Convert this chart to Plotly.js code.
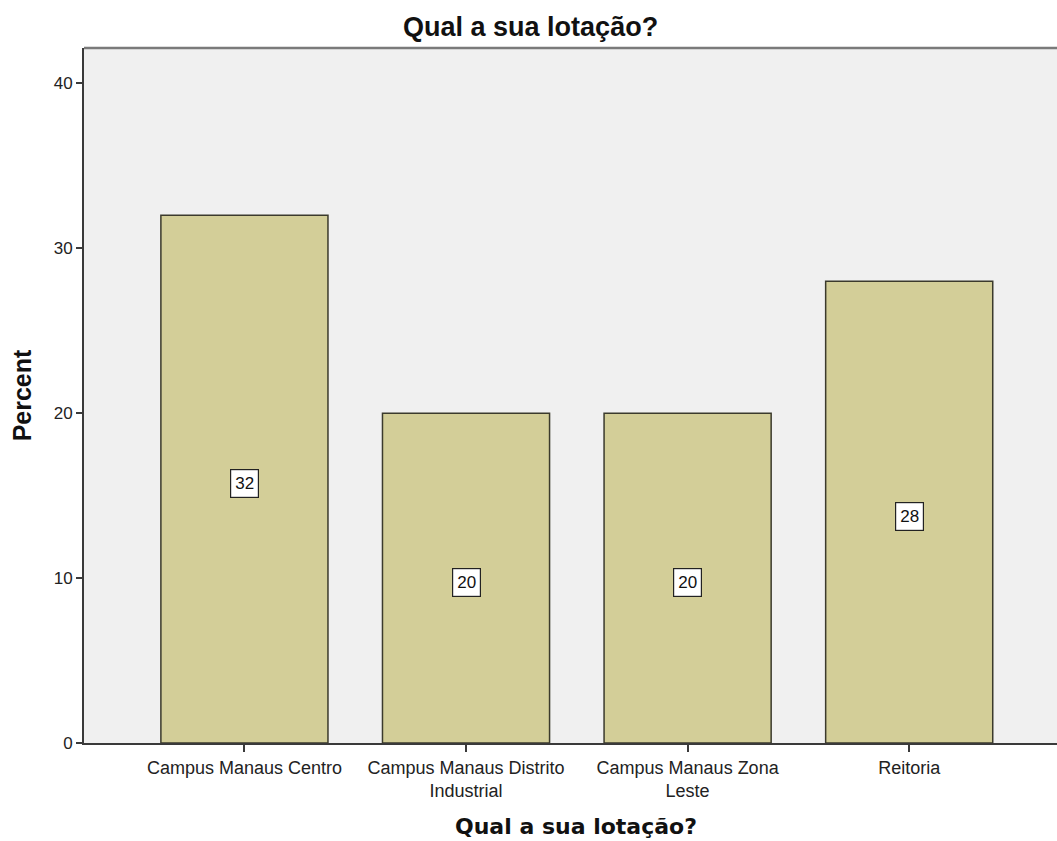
<!DOCTYPE html>
<html>
<head>
<meta charset="utf-8">
<script src="https://cdn.plot.ly/plotly-3.0.1.min.js"></script>
<style>html,body{margin:0;padding:0;background:#fff;}#chart{width:1057px;height:841px;}</style>
</head>
<body>
<div id="chart"></div>
<script>
const categories = ["Campus Manaus Centro", "Campus Manaus Distrito<br>Industrial", "Campus Manaus Zona<br>Leste", "Reitoria"];
const percents = [32, 20, 20, 28];
const labels = ["32", "20", "20", "28"];
const chartTitle = "Qual a sua lotação?";
const xTitle = "Qual a sua lotação?";
const yTitle = "Percent";

const trace = {
  type: "bar",
  x: categories,
  y: percents,
  marker: {color: "#d3ce98", line: {color: "#3b3a2c", width: 1.5}},
  hoverinfo: "none"
};

const annotations = categories.map((c, i) => ({
  x: c, y: percents[i] / 2, xref: "x", yref: "y", yshift: -4,
  text: labels[i], showarrow: false,
  font: {family: "Arial, Liberation Sans, sans-serif", size: 17, color: "#111"},
  bgcolor: "#ffffff", bordercolor: "#222", borderwidth: 1.2, borderpad: 4
}));
annotations.push({
  xref: "paper", yref: "paper", x: 0.506, y: -0.12, xanchor: "center", yanchor: "middle",
  text: "<b>" + xTitle + "</b>", showarrow: false,
  font: {family: "DejaVu Sans, Verdana, sans-serif", size: 22, color: "#111"}
});

const layout = {
  width: 1057, height: 841,
  margin: {l: 84, r: 0, t: 48, b: 98, pad: 0},
  paper_bgcolor: "#ffffff",
  plot_bgcolor: "#f0f0f0",
  bargap: 0.246,
  showlegend: false,
  title: {text: "<b>" + chartTitle + "</b>", x: 0.502, xanchor: "center", y: 0.969, yanchor: "middle",
          font: {family: "Arial, Liberation Sans, sans-serif", size: 27, color: "#111"}},
  xaxis: {
    range: [-0.724, 3.667],
    showline: true, linecolor: "#3a3a3a", linewidth: 2,
    ticks: "outside", ticklen: 7, tickwidth: 2, tickcolor: "#3a3a3a",
    showgrid: false, zeroline: false,
    tickfont: {family: "Arial, Liberation Sans, sans-serif", size: 18, color: "#222"},
    fixedrange: true
  },
  yaxis: {
    range: [0, 42.14],
    tickvals: [0, 10, 20, 30, 40],
    showline: true, linecolor: "#3a3a3a", linewidth: 2,
    ticks: "outside", ticklen: 6, tickwidth: 2, tickcolor: "#3a3a3a",
    showgrid: false, zeroline: false,
    tickfont: {family: "Arial, Liberation Sans, sans-serif", size: 17, color: "#222"},
    title: {text: "<b>" + yTitle + "</b>", standoff: 15,
            font: {family: "Arial, Liberation Sans, sans-serif", size: 25, color: "#111"}},
    fixedrange: true
  },
  shapes: [{type: "line", xref: "paper", yref: "paper", x0: 0, x1: 1, y0: 1, y1: 1,
            line: {color: "#7a7a7a", width: 2.5}}],
  annotations: annotations
};

Plotly.newPlot("chart", [trace], layout, {displayModeBar: false, staticPlot: true});
</script>
</body>
</html>
